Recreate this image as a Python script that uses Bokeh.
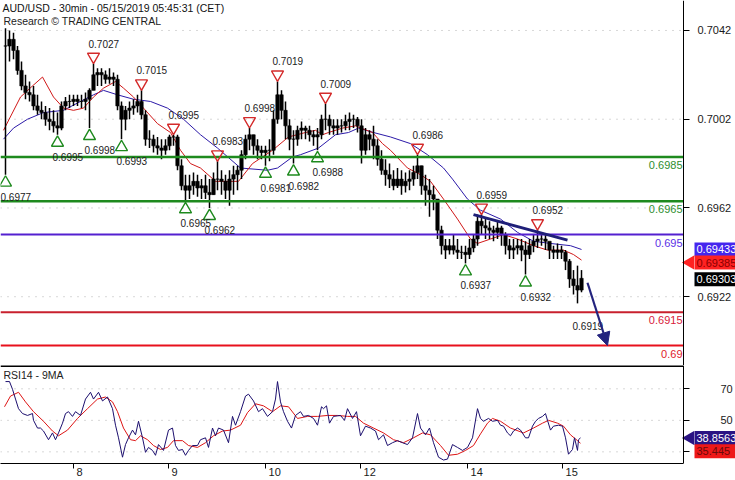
import math
from bokeh.plotting import figure
from bokeh.layouts import column
from bokeh.models import (Range1d, FixedTicker, Label, Arrow, NormalHead,
                          ColumnDataSource, NumeralTickFormatter)
from bokeh.core.properties import value
from bokeh.embed import file_html
from bokeh.resources import INLINE

FONT = "Liberation Sans"
PIP = 1e-4

# ---------------- data ----------------
# x = index of the 30-min bar (0 = first bar shown); prices given in pips (1e-4)
bar_t = list(range(1, 290, 2))
high_pips = [7043, 7042, 7041, 7035, 7028, 7022, 7019, 7017, 7013, 7010,
             7008, 7007, 7006, 7005, 7010, 7012, 7013, 7013, 7013, 7013,
             7014, 7016, 7027, 7025, 7025, 7024, 7025, 7023, 7022, 7010,
             7008, 7010, 7011, 7013, 7015, 7006, 6997, 6995, 6994, 6993,
             6993, 6995, 6995, 6995, 6984, 6977, 6977, 6978, 6977, 6975,
             6977, 6975, 6978, 6983, 6979, 6977, 6979, 6981, 6981, 6988,
             6995, 6998, 6995, 6993, 6990, 6990, 6993, 7006, 7019, 7015,
             7010, 7002, 6997, 6999, 7001, 6999, 6999, 6997, 6998, 7004,
             7009, 7004, 7002, 7002, 7002, 7004, 7005, 7004, 7003, 7002,
             6998, 6997, 6999, 6993, 6988, 6984, 6982, 6979, 6980, 6979,
             6978, 6979, 6981, 6986, 6981, 6977, 6975, 6972, 6966, 6954,
             6948, 6948, 6950, 6948, 6945, 6945, 6948, 6950, 6959, 6959,
             6957, 6956, 6954, 6956, 6954, 6951, 6948, 6948, 6948, 6948,
             6947, 6948, 6950, 6952, 6951, 6950, 6945, 6945, 6946, 6945,
             6943, 6939, 6934, 6936, 6934]
low_pips = [6977, 7028, 7029, 7022, 7015, 7011, 7010, 7006, 7004, 7002,
            6999, 6997, 6996, 6995, 6997, 7006, 7007, 7008, 7008, 7007,
            7006, 6998, 7015, 7017, 7017, 7018, 7018, 7017, 7006, 6993,
            6997, 7002, 7004, 7005, 7002, 6990, 6989, 6987, 6986, 6984,
            6986, 6988, 6990, 6979, 6970, 6965, 6966, 6968, 6967, 6966,
            6966, 6962, 6968, 6970, 6968, 6966, 6963, 6968, 6970, 6975,
            6984, 6988, 6986, 6984, 6984, 6981, 6983, 6986, 7000, 7002,
            6993, 6988, 6982, 6990, 6993, 6993, 6992, 6990, 6988, 6993,
            6997, 6995, 6995, 6995, 6996, 6997, 6997, 6998, 6996, 6982,
            6986, 6988, 6984, 6981, 6977, 6972, 6971, 6970, 6971, 6968,
            6969, 6970, 6972, 6975, 6968, 6963, 6958, 6961, 6948, 6941,
            6939, 6941, 6941, 6939, 6939, 6937, 6939, 6942, 6945, 6950,
            6948, 6948, 6947, 6948, 6945, 6941, 6939, 6939, 6941, 6938,
            6932, 6939, 6942, 6944, 6945, 6943, 6939, 6939, 6939, 6939,
            6934, 6926, 6923, 6919, 6924]
close_pips = [7035, 7038, 7033, 7024, 7017, 7014, 7013, 7008, 7006, 7005,
              7002, 7001, 6999, 6998, 7008, 7010, 7010, 7011, 7010, 7010,
              7011, 7015, 7022, 7023, 7022, 7020, 7021, 7020, 7008, 7002,
              7006, 7007, 7008, 7010, 7004, 6993, 6993, 6990, 6989, 6988,
              6990, 6994, 6994, 6981, 6972, 6970, 6972, 6974, 6971, 6972,
              6969, 6968, 6975, 6975, 6974, 6970, 6975, 6977, 6979, 6986,
              6993, 6995, 6990, 6988, 6987, 6988, 6988, 7002, 7013, 7006,
              6999, 6993, 6993, 6997, 6998, 6997, 6995, 6994, 6995, 7002,
              7002, 6999, 6998, 6999, 6999, 7001, 7002, 7002, 6999, 6988,
              6995, 6993, 6990, 6984, 6979, 6977, 6975, 6972, 6975, 6972,
              6974, 6975, 6978, 6981, 6972, 6970, 6968, 6966, 6952, 6945,
              6943, 6945, 6943, 6942, 6942, 6941, 6944, 6948, 6956, 6954,
              6953, 6952, 6951, 6953, 6950, 6945, 6943, 6944, 6945, 6943,
              6941, 6945, 6947, 6948, 6948, 6947, 6943, 6942, 6943, 6942,
              6938, 6930, 6927, 6925, 6930.3]

# moving averages on price (pips)
ma_fast_t = [0, 8.5, 14.5, 19.5, 25, 30, 35, 40, 45, 50,
             56, 60, 65, 70, 77, 83.5, 88.5, 93.5, 98.5, 106,
             117.5, 124.5, 134.5, 142.5, 151, 156, 159.5, 162.5, 169.5, 176,
             184.5, 189.5, 193.5, 202, 208.5, 213.5, 220, 227, 233.5, 237,
             243.5, 250, 257, 265, 272, 280, 285, 289]
ma_fast_pips = [6997, 7012, 7017, 7021, 7012, 7007, 7006, 7007, 7012, 7016,
                7019, 7016, 7012, 7007, 7000, 6996, 6988, 6982, 6980, 6974,
                6974, 6982, 6988, 6994, 6996, 6997, 6995, 6996, 6998, 6999,
                6996, 6991, 6988, 6980, 6977, 6974, 6966, 6957, 6948, 6946,
                6948, 6950, 6948, 6945, 6943, 6943, 6941, 6938.5]
ma_slow_t = [0, 5, 12, 20, 30, 38.5, 45, 50, 57, 65,
             73.5, 82, 90, 98.5, 107, 118.5, 132, 137, 144.5, 148.5,
             157.5, 166, 172.5, 177.5, 185, 193.5, 203.5, 212, 220, 224.5,
             232, 238.5, 248.5, 257, 265, 273.5, 283.5, 289]
ma_slow_pips = [6993, 6998, 7002, 7005, 7006, 7010, 7013, 7015, 7013, 7011,
                7010, 7007, 7002, 6995, 6989, 6980, 6979, 6980, 6985, 6986,
                6989, 6995, 6996, 6998, 6996, 6994, 6991, 6986, 6980, 6975,
                6966, 6961, 6957, 6951, 6947, 6946, 6945, 6943.3]

# swing highs / lows
hi_t = [45, 69, 85, 107, 123, 137, 161, 207, 239, 267]
hi_val = [0.7027, 0.7015, 0.6995, 0.6983, 0.6998, 0.7019, 0.7009, 0.6986, 0.6959, 0.6952]
lo_t = [1, 27, 43, 59, 91, 103, 131, 145, 157, 231, 261]
lo_val = [0.6977, 0.6995, 0.6998, 0.6993, 0.6965, 0.6962, 0.6981, 0.6982, 0.6988, 0.6937, 0.6932]
last_low_t = [287]
last_low_val = [0.6919]

# support / resistance levels
level_vals = [0.6985, 0.6965, 0.695, 0.6915, 0.69]

# trendline and target arrow
trend_t = [235, 282]
trend_price = [0.6959, 0.69475]
target_t = [292, 302]
target_price = [0.69283, 0.6900]

# last values
last_close = 0.69303
last_fast = 0.69385
last_slow = 0.69433
last_rsi = 38.8563
last_rsi_ma = 35.445

# RSI(14) and its 9-period MA
rsi_t = [1, 3, 4.5, 6, 7.5, 9.5, 12, 14.5, 15, 17,
         18.5, 20, 22.5, 24.5, 26, 27.5, 29.5, 31, 32.5, 34.5,
         36, 38.5, 41, 43.5, 45, 47.5, 49.5, 52, 54.5, 56,
         57.5, 59.5, 61, 62.5, 64.5, 66, 67.5, 69.5, 71, 72.5,
         74.5, 76, 77.5, 80, 82.5, 84.5, 86, 87.5, 89.5, 91,
         92.5, 94.5, 97, 98.5, 101, 102.5, 104.5, 106, 107.5, 110,
         112.5, 114.5, 116, 118.5, 121, 122.5, 125, 127.5, 129.5, 132,
         134.5, 136, 137, 138.5, 140, 142, 144, 146, 148.5, 150,
         152.5, 155, 157, 159, 160, 161.5, 163, 165, 168.5, 170.5,
         172, 174.5, 176.5, 178.5, 181, 183.5, 186, 187.5, 190, 192,
         194.5, 197, 199.5, 202, 204.5, 207, 208.5, 211, 213, 215,
         217.5, 220, 222, 224.5, 227, 229.5, 232, 234.5, 237, 238.5,
         240, 242.5, 244.5, 247, 248.5, 250, 252, 253.5, 255, 257,
         258.5, 261, 262.5, 264.5, 266, 267.5, 269.5, 271, 272, 273.5,
         275, 277.5, 279.5, 281, 282.5, 284.5, 285.5, 287, 287.5, 288.5]
rsi = [74.6, 74.6, 69.7, 63.5, 57.4, 54.3, 53.1, 54.3, 50.0, 45.1,
       45.1, 43.2, 37.7, 42.0, 37.7, 42.0, 48.2, 54.3, 55.5, 52.5,
       55.5, 53.1, 63.5, 67.8, 63.5, 67.8, 62.3, 64.8, 57.4, 46.9,
       38.9, 26.6, 34.6, 38.9, 43.8, 40.8, 49.4, 38.9, 29.7, 32.8,
       30.9, 27.8, 34.6, 30.9, 43.8, 45.1, 34.0, 30.9, 31.5, 27.8,
       30.9, 34.0, 34.0, 37.7, 38.9, 32.8, 45.1, 40.2, 45.1, 43.8,
       35.8, 52.5, 46.9, 55.5, 65.4, 66.6, 62.3, 55.5, 57.4, 52.5,
       55.5, 63.5, 74.6, 61.7, 55.5, 49.4, 45.1, 53.1, 55.5, 52.5,
       53.1, 51.2, 46.9, 58.6, 57.4, 59.2, 48.2, 52.5, 53.1, 50.0,
       57.4, 51.2, 55.5, 40.2, 46.3, 45.1, 43.2, 37.7, 40.8, 34.0,
       35.8, 37.1, 35.8, 34.6, 38.9, 54.3, 45.1, 40.8, 45.1, 35.8,
       26.6, 24.8, 25.4, 34.6, 32.8, 30.9, 32.8, 38.9, 57.4, 51.2,
       49.4, 51.2, 49.4, 50.0, 46.9, 46.3, 42.0, 40.2, 43.2, 45.1,
       43.8, 38.9, 38.9, 46.3, 49.4, 51.2, 52.5, 54.3, 50.0, 43.8,
       46.3, 46.9, 46.3, 38.9, 28.5, 31.5, 38.9, 30.9, 37.7, 38.8563]
rsi_ma_t = [0.5, 3.5, 7.5, 11, 15, 20, 24.5, 27.5, 32, 37,
            42, 47, 51, 54.5, 57, 60, 63.5, 66, 68.5, 72,
            75, 78.5, 82, 85, 89.5, 92.5, 97, 101, 105, 109.5,
            113.5, 118.5, 122, 126, 130, 134.5, 138.5, 142.5, 147, 152,
            157, 162, 167, 172, 176, 180, 185, 190, 195, 200,
            205, 209.5, 213.5, 218.5, 222.5, 227, 231, 235, 238.5, 242,
            244.5, 248.5, 253.5, 260, 265, 269.5, 272.5, 277, 280, 283.5,
            287, 288.5]
rsi_ma = [58.6, 65.4, 67.8, 61.7, 55.5, 49.4, 43.2, 40.2, 43.8, 51.2,
          57.4, 63.5, 64.8, 61.7, 55.5, 45.1, 37.7, 37.1, 40.2, 37.7,
          34.0, 31.5, 32.8, 37.1, 37.1, 34.0, 32.8, 35.8, 40.2, 43.2,
          43.8, 46.9, 54.9, 60.5, 59.2, 55.5, 59.2, 58.6, 51.2, 52.5,
          52.5, 53.1, 53.1, 52.5, 52.5, 48.2, 45.1, 42.0, 37.7, 35.8,
          38.9, 42.0, 40.8, 34.0, 27.8, 28.5, 30.9, 34.0, 41.4, 48.2,
          51.2, 49.4, 45.1, 42.0, 45.1, 48.2, 50.0, 48.2, 46.3, 40.8,
          37.1, 35.445]

# axes
price_ticks = [0.6922, 0.6962, 0.7002, 0.7042]
rsi_ticks = [30, 50, 70]
day_t = [35, 82.5, 131, 178.5, 232, 279.5]
day_labels = ["8", "9", "10", "12", "14", "15"]

title_text = "AUD/USD - 30min - 05/15/2019 05:45:31 (CET)"
subtitle_text = "Research \u00a9 TRADING CENTRAL"
rsi_title = "RSI14 - 9MA"

# ---------------- derived ----------------
high = [v * PIP for v in high_pips]
low = [v * PIP for v in low_pips]
close = [v * PIP for v in close_pips]
open_ = [close[0]] + close[:-1]
ma_fast = [v * PIP for v in ma_fast_pips]
ma_slow = [v * PIP for v in ma_slow_pips]

# ---------------- styles / layout ----------------
W = 735
AXIS_PX = 683                      # position of the price-axis line inside the frame
H_MAIN, H_RSI = 365, 115
RSI_FRAME_H = H_RSI - 18
X0, X1 = -1.5, 340                 # x at left edge / at the price axis
px_per_x = AXIS_PX / (X1 - X0)
XEND = X0 + W / px_per_x
PY0, PY1 = 0.68910, 0.70555
RY0, RY1 = 22.6, 84.8
price_per_px = (PY1 - PY0) / H_MAIN
rsi_per_px = (RY1 - RY0) / RSI_FRAME_H

level_colors = ["#1e8a1e", "#1e8a1e", "#5420d0", "#c8202e", "#e8101c"]
level_widths = [2.6, 2.6, 2, 2, 2]
level_text_colors = ["#2e8e2e", "#2e8e2e", "#5b30e6", "#d8203a", "#e01a2a"]
GRID = dict(line_color="#b0b0b0", line_dash="1 6", line_width=1)


def style_axis(ax, tick_out):
    ax.axis_line_color = "black"
    ax.major_tick_line_color = "black"
    ax.minor_tick_line_color = None
    ax.major_tick_in = 0
    ax.major_tick_out = tick_out
    ax.major_label_text_font = FONT
    ax.major_label_text_font_size = "11px"
    ax.major_label_text_color = "#1a1a1a"


def tags(fig, ys, texts, bgs, fgs, off_px, unit, pointers):
    """value tags just right of the price axis"""
    yy = [y + o * unit for y, o in zip(ys, off_px)]
    n = len(ys)
    fig.rect(x=[X1 + 33 / px_per_x] * n, y=yy, width=44, height=14,
             width_units="screen", height_units="screen", fill_color=bgs, line_color=None)
    fig.text(x=[X1 + 13 / px_per_x] * n, y=yy, text=texts, text_color=fgs,
             text_font=value(FONT), text_font_size=value("11px"),
             text_align="left", text_baseline="middle")
    if pointers:
        fig.scatter(x=[X1 + 6.5 / px_per_x] * len(pointers), y=[yy[i] for i in pointers],
                    marker="triangle", angle=math.pi / 2, size=14,
                    fill_color=[bgs[i] for i in pointers], line_color=None)


# ---------------- main price panel ----------------
p1 = figure(width=W, height=H_MAIN, x_range=Range1d(X0, XEND), y_range=Range1d(PY0, PY1),
            output_backend="svg", toolbar_location=None, x_axis_location=None,
            y_axis_location="right", min_border_left=0, min_border_right=0,
            min_border_top=0, min_border_bottom=0, outline_line_color=None,
            background_fill_color="white", border_fill_color="white")
p1.xgrid.visible = False
p1.ygrid.visible = False
ya = p1.yaxis[0]
ya.fixed_location = X1
ya.ticker = FixedTicker(ticks=price_ticks)
ya.formatter = NumeralTickFormatter(format="0.0000")
ya.major_label_standoff = 8
style_axis(ya, 6)

p1.segment(x0=[X0] * len(price_ticks), y0=price_ticks, x1=[X1] * len(price_ticks),
           y1=price_ticks, **GRID)

# moving averages
p1.line(ma_slow_t, ma_slow, line_color="#2c1aa8", line_width=1)
p1.line(ma_fast_t, ma_fast, line_color="#d01818", line_width=1)

# price bars
src = ColumnDataSource(dict(t=bar_t, high=high, low=low,
                            top=[max(o, c) for o, c in zip(open_, close)],
                            bottom=[min(o, c) for o, c in zip(open_, close)]))
p1.segment(x0="t", y0="low", x1="t", y1="high", source=src, line_color="black", line_width=1.5)
p1.vbar(x="t", top="top", bottom="bottom", width=1.7, source=src,
        fill_color="black", line_color="black", line_width=0.6)

# levels
nl = len(level_vals)
p1.segment(x0=[X0] * nl, y0=level_vals, x1=[X1] * nl, y1=level_vals,
           line_color=level_colors, line_width=level_widths)
p1.text(x=[X1] * nl, y=level_vals, text=[f"{v:g}" for v in level_vals],
        text_color=level_text_colors, x_offset=-1, y_offset=8, text_align="right",
        text_baseline="middle", text_font=value(FONT), text_font_size=value("11px"))

# swing markers
p1.scatter(hi_t, [v + 7 * price_per_px for v in hi_val], marker="inverted_triangle", size=12,
           fill_color=None, line_color="#d42a2a", line_width=1.4)
p1.scatter(lo_t, [v - 8 * price_per_px for v in lo_val], marker="triangle", size=12,
           fill_color=None, line_color="#1e8a1e", line_width=1.4)
lab = dict(text_font=value(FONT), text_font_size=value("10px"), text_color="#222222",
           text_align="left", text_baseline="middle", x_offset=-5)
p1.text(x=hi_t, y=hi_val, text=[f"{v:.4f}" for v in hi_val], y_offset=-20, **lab)
p1.text(x=lo_t, y=lo_val, text=[f"{v:.4f}" for v in lo_val], y_offset=22, **lab)
p1.text(x=last_low_t, y=last_low_val, text=[f"{v:.4f}" for v in last_low_val], y_offset=23, **lab)

# trendline and target arrow
p1.line(trend_t, trend_price, line_color="#1f1f78", line_width=3)
arrow_c = "#23237e"
p1.add_layout(Arrow(end=NormalHead(size=13, fill_color=arrow_c, line_color=arrow_c),
                    x_start=target_t[0], y_start=target_price[0],
                    x_end=target_t[1], y_end=target_price[1],
                    line_color=arrow_c, line_width=2.2))

# titles
p1.add_layout(Label(x=X0, y=PY1, x_offset=2, y_offset=-7, text=title_text, text_font=FONT,
                    text_font_size="10.5px", text_color="#111111", text_baseline="middle"))
p1.add_layout(Label(x=X0, y=PY1, x_offset=3, y_offset=-20, text=subtitle_text, text_font=FONT,
                    text_font_size="10.5px", text_color="#222222", text_baseline="middle"))

tags(p1, [last_slow, last_fast, last_close],
     [f"{last_slow:.5f}", f"{last_fast:.5f}", f"{last_close:.5f}"],
     ["#4526ee", "#ff2222", "black"], ["white", "#8a0000", "white"],
     [0, -2.5, -1], price_per_px, [1])

# ---------------- RSI panel ----------------
p2 = figure(width=W, height=H_RSI, x_range=p1.x_range, y_range=Range1d(RY0, RY1),
            output_backend="svg", toolbar_location=None, y_axis_location="right",
            min_border_left=0, min_border_right=0, min_border_top=0, min_border_bottom=0,
            outline_line_color=None, background_fill_color="white", border_fill_color="white")
p2.xgrid.visible = False
p2.ygrid.visible = False
ra = p2.yaxis[0]
ra.fixed_location = X1
ra.ticker = FixedTicker(ticks=rsi_ticks)
ra.major_label_overrides = {30: ""}
ra.major_label_standoff = 31
style_axis(ra, 6)

xa = p2.xaxis[0]
xa.ticker = FixedTicker(ticks=day_t)
xa.bounds = (X0, X1)
pad = {1: "\u00a0" * 4, 2: "\u00a0" * 6}
xa.major_label_overrides = {t: pad[len(s)] + s for t, s in zip(day_t, day_labels)}
xa.major_label_standoff = -3
style_axis(xa, 5)

p2.segment(x0=[X0] * len(rsi_ticks), y0=rsi_ticks, x1=[X1] * len(rsi_ticks), y1=rsi_ticks, **GRID)
p2.segment(x0=[X0], y0=[RY1], x1=[X1], y1=[RY1], line_color="black", line_width=3)
p2.line(rsi_ma_t, rsi_ma, line_color="#dd1414", line_width=1)
p2.line(rsi_t, rsi, line_color="#1c0f6e", line_width=1)
p2.add_layout(Label(x=X0, y=RY1, x_offset=3, y_offset=-9, text=rsi_title, text_font=FONT,
                    text_font_size="10.5px", text_color="#222222", text_baseline="middle"))
tags(p2, [last_rsi, last_rsi_ma], [f"{last_rsi:.4f}", f"{last_rsi_ma:g}"],
     ["#2b1483", "#ee1818"], ["white", "#6a0a0a"], [0, -8], rsi_per_px, [0])

layout = column(p1, p2)
open("out.html", "w").write(file_html(layout, INLINE))
